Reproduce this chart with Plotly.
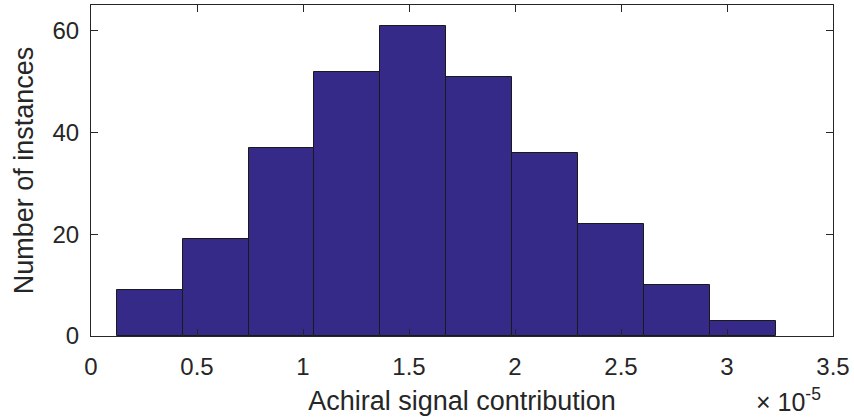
import plotly.graph_objects as go

# Histogram bins (values in units of the axis, i.e. x 1e-5)
bin_start = 0.121e-5
bin_width = 0.311e-5
counts = [9, 19, 37, 52, 61, 51, 36, 22, 10, 3]

x_tickvals = [0, 0.5e-5, 1.0e-5, 1.5e-5, 2.0e-5, 2.5e-5, 3.0e-5, 3.5e-5]
x_ticktext = ["0", "0.5", "1", "1.5", "2", "2.5", "3", "3.5"]
y_tickvals = [0, 20, 40, 60]

centers = [bin_start + bin_width * (i + 0.5) for i in range(len(counts))]

FONT = "Liberation Sans, Arial, Helvetica, sans-serif"
TXT = "#262626"

fig = go.Figure(go.Bar(
    x=centers, y=counts, width=[bin_width] * len(counts),
    marker=dict(color="#352A87", line=dict(color="#1a1a1a", width=1)),
))

axis_common = dict(
    showline=True, linecolor=TXT, linewidth=1, mirror="ticks",
    ticks="inside", ticklen=7, tickcolor=TXT, tickwidth=1,
    showgrid=False, zeroline=False,
    tickfont=dict(family=FONT, size=24, color=TXT),
)

fig.update_layout(
    width=854, height=417,
    margin=dict(l=91, r=21, t=5, b=81),
    paper_bgcolor="white", plot_bgcolor="white",
    showlegend=False, bargap=0,
    font=dict(family=FONT, color=TXT),
    xaxis=dict(
        range=[0, 3.5e-5], tickvals=x_tickvals, ticktext=x_ticktext,
        title=dict(text="Achiral signal contribution", font=dict(family=FONT, size=27, color=TXT), standoff=12),
        ticklabelstandoff=9, automargin=False,
        **axis_common,
    ),
    yaxis=dict(
        range=[0, 65.1], tickvals=y_tickvals,
        title=dict(text="Number of instances", font=dict(family=FONT, size=27, color=TXT), standoff=11),
        ticklabelstandoff=6, automargin=False,
        **axis_common,
    ),
    annotations=[dict(
        text="× 10<sup>-5</sup>", xref="paper", yref="paper",
        x=0.987, y=0, xanchor="right", yanchor="top", yshift=-46,
        showarrow=False, font=dict(family=FONT, size=25, color=TXT),
    )],
)

fig.write_html("out.html", post_script="document.body.style.margin='0';",
               config={"displayModeBar": False})
